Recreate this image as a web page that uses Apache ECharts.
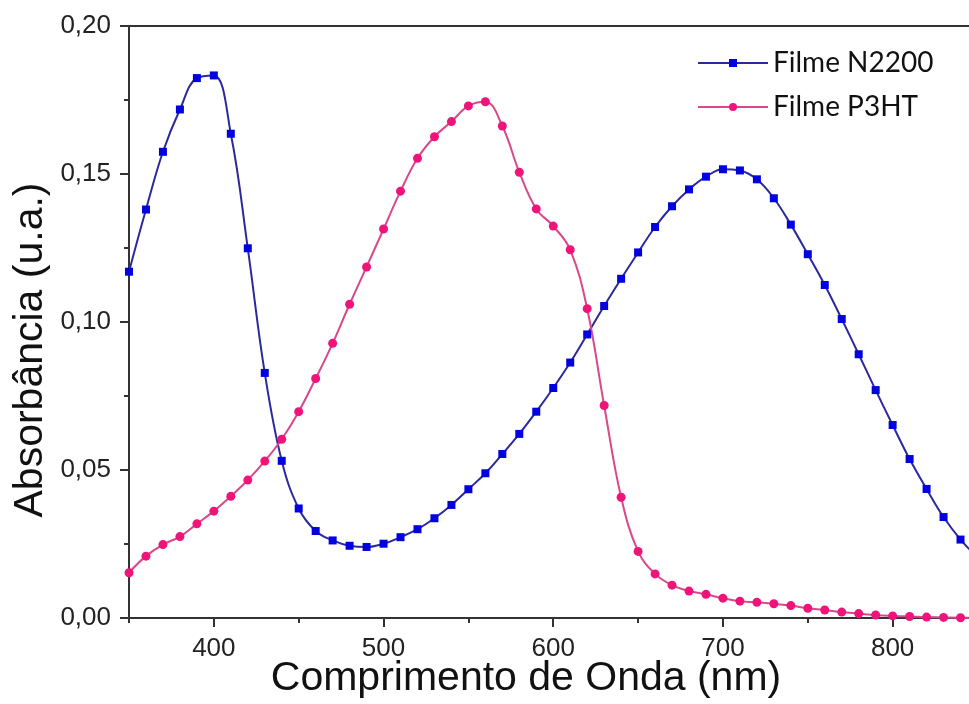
<!DOCTYPE html>
<html>
<head>
<meta charset="utf-8">
<script src="https://cdn.jsdelivr.net/npm/echarts@6/dist/echarts.min.js"></script>
<style>
html,body{margin:0;padding:0;background:#fff;}
#chart{width:969px;height:704px;}
</style>
</head>
<body>
<div id="chart"></div>
<script>
const wavelengths = [350,360,370,380,390,400,410,420,430,440,450,460,470,480,490,500,510,520,530,540,550,560,570,580,590,600,610,620,630,640,650,660,670,680,690,700,710,720,730,740,750,760,770,780,790,800,810,820,830,840,850];
const n2200 = [0.117,0.138,0.1575,0.1718,0.1824,0.1833,0.1636,0.1249,0.0828,0.0531,0.037,0.0294,0.0262,0.0244,0.024,0.0251,0.0273,0.03,0.0337,0.0382,0.0435,0.0489,0.0554,0.0622,0.0697,0.0777,0.0863,0.0958,0.1054,0.1146,0.1235,0.1321,0.1391,0.1448,0.1491,0.1516,0.1512,0.1482,0.1418,0.1329,0.1229,0.1125,0.101,0.0891,0.077,0.0652,0.0537,0.0436,0.0341,0.0265,0.0205];
const p3ht = [0.0153,0.0209,0.0248,0.0275,0.0318,0.0361,0.0411,0.0466,0.053,0.0604,0.0697,0.0809,0.0928,0.106,0.1186,0.1314,0.1442,0.1553,0.1626,0.1677,0.173,0.1744,0.1662,0.1506,0.1382,0.1324,0.1244,0.1045,0.0718,0.0408,0.0225,0.0149,0.0111,0.0091,0.008,0.0067,0.0057,0.0053,0.0048,0.0042,0.0033,0.0027,0.002,0.0015,0.001,0.0007,0.0005,0.0003,0.0002,0.0001,0.0001];
const seriesNames = ['Filme N2200','Filme P3HT'];
const xMajorTicks = [400,500,600,700,800];
const xMinorTicks = [350,450,550,650,750];
const xTitle = 'Comprimento de Onda (nm)';
const yTitle = 'Absorbância (u.a.)';

const chart = echarts.init(document.getElementById('chart'), null, {renderer:'canvas'});
const axisColor = '#333';
const fontMain = '"Liberation Sans", Arial, sans-serif';
const zip = (xs, ys) => xs.map((x,i)=>[x, ys[i]]);

chart.setOption({
  animation:false,
  backgroundColor:'#fff',
  grid:{left:129, right:0, top:26, bottom:86, containLabel:false, outerBoundsMode:'none'},
  legend:{
    orient:'vertical', left:692, top:44,
    itemWidth:70, itemHeight:10, itemGap:16,
    textStyle:{fontFamily:'Lato, "Open Sans", sans-serif', fontSize:28, color:'#111'},
    data:seriesNames
  },
  xAxis:[
    {
      type:'value', min:350, max:845, position:'bottom',
      axisLine:{show:true, lineStyle:{color:axisColor, width:2}},
      axisTick:{show:true, length:9, inside:false, customValues:xMajorTicks, lineStyle:{color:axisColor, width:2}},
      axisLabel:{show:true, customValues:xMajorTicks, fontSize:26, color:'#222', fontFamily:fontMain, margin:18},
      splitLine:{show:false},
      name:xTitle, nameLocation:'middle', nameGap:40, nameMoveOverlap:false,
      nameTextStyle:{fontSize:41, color:'#111', fontFamily:fontMain, padding:[0,46,0,0]}
    },
    {
      type:'value', min:350, max:845, position:'bottom',
      axisLine:{show:false},
      axisTick:{show:true, length:5, customValues:xMinorTicks, lineStyle:{color:axisColor, width:2}},
      axisLabel:{show:false},
      splitLine:{show:false}
    },
    {
      type:'value', min:350, max:845, position:'top',
      axisLine:{show:true, lineStyle:{color:axisColor, width:2}},
      axisTick:{show:false}, axisLabel:{show:false}, splitLine:{show:false}
    }
  ],
  yAxis:{
    type:'value', min:0, max:0.2, interval:0.05,
    axisLine:{show:true, lineStyle:{color:axisColor, width:2}},
    axisTick:{show:true, length:9, lineStyle:{color:axisColor, width:2}},
    minorTick:{show:true, splitNumber:2, length:5, lineStyle:{color:axisColor, width:2}},
    axisLabel:{fontSize:26, color:'#222', fontFamily:fontMain, margin:18,
      formatter:v=>v.toFixed(2).replace('.',',')},
    splitLine:{show:false},
    name:yTitle, nameLocation:'middle', nameGap:78, nameRotate:90, nameMoveOverlap:false,
    nameTextStyle:{fontSize:41, color:'#111', fontFamily:fontMain, padding:[0,56,0,0]}
  },
  series:[
    {
      name:seriesNames[0], type:'line', xAxisIndex:0, data:zip(wavelengths,n2200),
      smooth:0.4, symbol:'rect', symbolSize:8, clip:true,
      lineStyle:{color:'#2a2a9e', width:2},
      itemStyle:{color:'#0000e0', borderWidth:0}
    },
    {
      name:seriesNames[1], type:'line', xAxisIndex:0, data:zip(wavelengths,p3ht),
      smooth:0.4, symbol:'circle', symbolSize:9, clip:true,
      lineStyle:{color:'#d8488a', width:2},
      itemStyle:{color:'#f0147a', borderWidth:0}
    }
  ]
});
</script>
</body>
</html>
